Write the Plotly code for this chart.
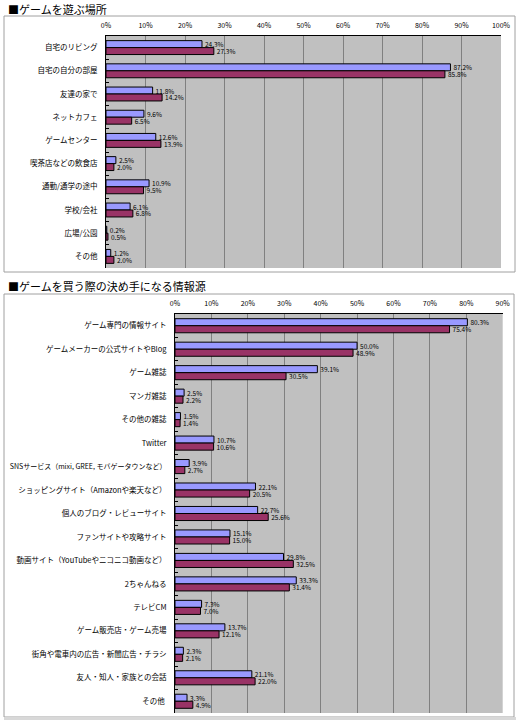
import plotly.graph_objects as go

# ---- data: chart 1 ----
places = ["自宅のリビング", "自宅の自分の部屋", "友達の家で", "ネットカフェ", "ゲームセンター",
          "喫茶店などの飲食店", "通勤/通学の途中", "学校/会社", "広場/公園", "その他"]
places_a = [24.3, 87.2, 11.8, 9.6, 12.6, 2.5, 10.9, 6.1, 0.2, 1.2]
places_b = [27.3, 85.8, 14.2, 6.5, 13.9, 2.0, 9.5, 6.8, 0.5, 2.0]
ticks1 = [0, 10, 20, 30, 40, 50, 60, 70, 80, 90, 100]

# ---- data: chart 2 ----
sources = ["ゲーム専門の情報サイト", "ゲームメーカーの公式サイトやBlog", "ゲーム雑誌", "マンガ雑誌",
           "その他の雑誌", "Twitter", "SNSサービス（mixi, GREE, モバゲータウンなど）",
           "ショッピングサイト（Amazonや楽天など）", "個人のブログ・レビューサイト",
           "ファンサイトや攻略サイト", "動画サイト（YouTubeやニコニコ動画など）", "2ちゃんねる",
           "テレビCM", "ゲーム販売店・ゲーム売場", "街角や電車内の広告・新聞広告・チラシ",
           "友人・知人・家族との会話", "その他 "]
sources_a = [80.3, 50.0, 39.1, 2.5, 1.5, 10.7, 3.9, 22.1, 22.7, 15.1, 29.8, 33.3, 7.3, 13.7, 2.3, 21.1, 3.3]
sources_b = [75.4, 48.9, 30.5, 2.2, 1.4, 10.6, 2.7, 20.5, 25.6, 15.0, 32.5, 31.4, 7.0, 12.1, 2.1, 22.0, 4.9]
ticks2 = [0, 10, 20, 30, 40, 50, 60, 70, 80, 90]

W, H = 520, 723
BLUE = "#9999FF"
RED = "#993366"
FONT = "Noto Sans CJK JP"

def px(x):
    return x / W

def py(y):
    return 1 - y / H

fig = go.Figure()

def add_pair(cats, a, b, xa, ya):
    for vals, col in ((a, BLUE), (b, RED)):
        fig.add_trace(go.Bar(
            y=cats, x=vals, orientation="h", xaxis=xa, yaxis=ya,
            marker=dict(color=col, line=dict(color="#000000", width=1)),
            texttemplate="%{x:.1f}%", textposition="outside",
            textfont=dict(size=6.5, color="#000000", family=FONT),
            cliponaxis=False, showlegend=False, hoverinfo="skip"))

add_pair(places, places_a, places_b, "x", "y")
add_pair(sources, sources_a, sources_b, "x2", "y2")

# shrink only the very long label slightly so it fits inside the frame
src_ticktext = [f'<span style="font-size:7px">{s}</span>' if len(s) > 24 else s for s in sources]

xcommon = dict(side="top", showgrid=True, gridcolor="#808080", gridwidth=1,
               zeroline=False, showline=True, linecolor="#000000", linewidth=1,
               ticks="", tickfont=dict(size=7, family=FONT, color="#000000"),
               ticklabelstandoff=4, tickmode="array", fixedrange=True, automargin=False)
ycommon = dict(autorange="reversed", showline=True, linecolor="#000000", linewidth=1,
               ticks="inside", ticklen=3, tickcolor="#000000", tickson="boundaries",
               tickfont=dict(size=7.5, family=FONT, color="#000000"), showgrid=False,
               ticklabelstandoff=6, fixedrange=True, automargin=False)

fig.update_layout(
    width=W, height=H, margin=dict(l=0, r=0, t=0, b=0, autoexpand=False),
    paper_bgcolor="#FFFFFF", plot_bgcolor="#C0C0C0",
    barmode="group", bargap=0.4, bargroupgap=0,
    uniformtext=dict(minsize=6, mode="show"),
    xaxis=dict(xcommon, domain=[px(106), px(501)], range=[0, 100],
               tickvals=ticks1, ticktext=[f"{t}%" for t in ticks1], anchor="y"),
    yaxis=dict(ycommon, domain=[py(268), py(36)], anchor="x",
               categoryorder="array", categoryarray=places),
    xaxis2=dict(xcommon, domain=[px(175), px(502.7)], range=[0, 90],
                tickvals=ticks2, ticktext=[f"{t}%" for t in ticks2], anchor="y2"),
    yaxis2=dict(ycommon, domain=[py(713), py(314)], anchor="x2",
                categoryorder="array", categoryarray=sources,
                tickmode="array", tickvals=sources, ticktext=src_ticktext),
)

# frames
fig.add_shape(type="rect", xref="paper", yref="paper", x0=px(4), x1=px(515), y0=py(272), y1=py(16),
              line=dict(color="#A0A0A0", width=1), layer="below")
fig.add_shape(type="rect", xref="paper", yref="paper", x0=px(4), x1=px(514), y0=py(717), y1=py(294),
              line=dict(color="#A0A0A0", width=1), layer="below")
fig.add_shape(type="rect", xref="paper", yref="paper", x0=px(4), x1=px(516), y0=py(720), y1=py(717),
              line=dict(width=0), fillcolor="#D8D8D8", layer="below")

# titles
fig.add_annotation(text="■ゲームを遊ぶ場所", xref="paper", yref="paper", x=px(6), y=py(9),
                   xanchor="left", yanchor="middle", showarrow=False,
                   font=dict(size=11, family=FONT, color="#000000"))
fig.add_annotation(text="■ゲームを買う際の決め手になる情報源", xref="paper", yref="paper",
                   x=px(6), y=py(286), xanchor="left", yanchor="middle", showarrow=False,
                   font=dict(size=11, family=FONT, color="#000000"))

fig.write_html("out.html", config={"displayModeBar": False},
               post_script="document.body.style.margin='0';document.body.style.overflow='hidden';")
